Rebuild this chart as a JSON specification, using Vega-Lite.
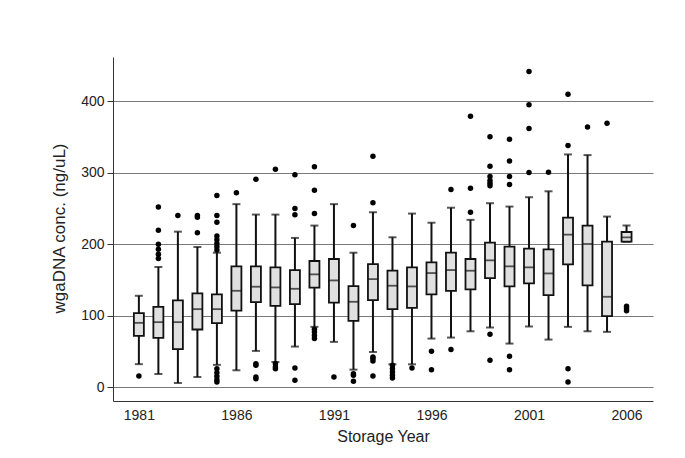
{
  "$schema": "https://vega.github.io/schema/vega-lite/v6.json",
  "width": 540,
  "height": 344,
  "autosize": "none",
  "padding": {"left": 113, "top": 57, "right": 32, "bottom": 57},
  "background": "white",
  "config": {
    "view": {"stroke": null},
    "font": "Liberation Sans",
    "axis": {"labelFont": "Liberation Sans", "titleFont": "Liberation Sans", "labelColor": "#222", "titleColor": "#222", "titleFontWeight": "normal", "domainColor": "#333", "tickColor": "#333"}
  },
  "datasets": {
    "boxes": [
      {"year": 1981, "lo": 32, "q1": 71.6, "med": 89.8, "q3": 103.4, "hi": 127.7},
      {"year": 1982, "lo": 18.2, "q1": 68.8, "med": 90.8, "q3": 112.3, "hi": 168},
      {"year": 1983, "lo": 5.6, "q1": 52.9, "med": 90.8, "q3": 121.2, "hi": 217.5},
      {"year": 1984, "lo": 14, "q1": 80.5, "med": 109, "q3": 131, "hi": 196},
      {"year": 1985, "lo": 31, "q1": 89.4, "med": 109, "q3": 129.6, "hi": 188},
      {"year": 1986, "lo": 23.4, "q1": 107, "med": 134.7, "q3": 169, "hi": 256},
      {"year": 1987, "lo": 50.5, "q1": 118.8, "med": 140.4, "q3": 169, "hi": 241.4},
      {"year": 1988, "lo": 35, "q1": 113.7, "med": 139.4, "q3": 167.5, "hi": 241.4},
      {"year": 1989, "lo": 56.6, "q1": 116, "med": 137.5, "q3": 163.7, "hi": 208.7},
      {"year": 1990, "lo": 84.2, "q1": 139, "med": 157.7, "q3": 176.4, "hi": 226},
      {"year": 1991, "lo": 63.2, "q1": 118, "med": 149.2, "q3": 179.2, "hi": 256},
      {"year": 1992, "lo": 24.3, "q1": 92.6, "med": 119.3, "q3": 141.3, "hi": 188},
      {"year": 1993, "lo": 49, "q1": 121.6, "med": 151, "q3": 172, "hi": 244.7},
      {"year": 1994, "lo": 31.8, "q1": 109, "med": 141.8, "q3": 162.8, "hi": 209.6},
      {"year": 1995, "lo": 31.8, "q1": 110.9, "med": 140.8, "q3": 167.5, "hi": 242.8},
      {"year": 1996, "lo": 67.8, "q1": 129.6, "med": 159.5, "q3": 174.5, "hi": 230},
      {"year": 1997, "lo": 69.2, "q1": 134.7, "med": 163.7, "q3": 188, "hi": 251},
      {"year": 1998, "lo": 78, "q1": 136.6, "med": 162.8, "q3": 179.2, "hi": 234},
      {"year": 1999, "lo": 83.3, "q1": 152.5, "med": 177.3, "q3": 202, "hi": 257.3},
      {"year": 2000, "lo": 60.8, "q1": 140.8, "med": 168.9, "q3": 196.5, "hi": 252.6},
      {"year": 2001, "lo": 84.7, "q1": 145, "med": 167.5, "q3": 193.7, "hi": 265.7},
      {"year": 2002, "lo": 66.4, "q1": 128.7, "med": 159, "q3": 192.7, "hi": 274},
      {"year": 2003, "lo": 84.2, "q1": 171.7, "med": 213.3, "q3": 237.2, "hi": 325.6},
      {"year": 2004, "lo": 78, "q1": 142.2, "med": 200.2, "q3": 226, "hi": 324.7},
      {"year": 2005, "lo": 77.2, "q1": 99.2, "med": 126.3, "q3": 203.5, "hi": 238.6},
      {"year": 2006, "lo": 203.5, "q1": 203.5, "med": 209.6, "q3": 217, "hi": 226}
    ],
    "outliers": [
      {"year": 1981, "v": 15.4},
      {"year": 1982, "v": 252}, {"year": 1982, "v": 219.4}, {"year": 1982, "v": 200}, {"year": 1982, "v": 193}, {"year": 1982, "v": 186}, {"year": 1982, "v": 180},
      {"year": 1983, "v": 240},
      {"year": 1984, "v": 240}, {"year": 1984, "v": 237.7}, {"year": 1984, "v": 216},
      {"year": 1985, "v": 268}, {"year": 1985, "v": 240}, {"year": 1985, "v": 230.6}, {"year": 1985, "v": 211.5}, {"year": 1985, "v": 206}, {"year": 1985, "v": 201}, {"year": 1985, "v": 196.5}, {"year": 1985, "v": 191.8},
      {"year": 1985, "v": 25.7}, {"year": 1985, "v": 20}, {"year": 1985, "v": 15}, {"year": 1985, "v": 10}, {"year": 1985, "v": 7},
      {"year": 1986, "v": 272},
      {"year": 1987, "v": 291}, {"year": 1987, "v": 32.7}, {"year": 1987, "v": 30.4}, {"year": 1987, "v": 14}, {"year": 1987, "v": 11.7},
      {"year": 1988, "v": 305}, {"year": 1988, "v": 32.7}, {"year": 1988, "v": 28}, {"year": 1988, "v": 25.7},
      {"year": 1989, "v": 297}, {"year": 1989, "v": 250}, {"year": 1989, "v": 241}, {"year": 1989, "v": 26.7}, {"year": 1989, "v": 9.4},
      {"year": 1990, "v": 308.3}, {"year": 1990, "v": 275.6}, {"year": 1990, "v": 242.8}, {"year": 1990, "v": 81}, {"year": 1990, "v": 77}, {"year": 1990, "v": 72}, {"year": 1990, "v": 68},
      {"year": 1991, "v": 14},
      {"year": 1992, "v": 226}, {"year": 1992, "v": 18.7}, {"year": 1992, "v": 16.4}, {"year": 1992, "v": 8},
      {"year": 1993, "v": 323}, {"year": 1993, "v": 258}, {"year": 1993, "v": 42}, {"year": 1993, "v": 39.8}, {"year": 1993, "v": 36.5}, {"year": 1993, "v": 15.4},
      {"year": 1994, "v": 30.4}, {"year": 1994, "v": 25.7}, {"year": 1994, "v": 21}, {"year": 1994, "v": 16.4}, {"year": 1994, "v": 12.6},
      {"year": 1995, "v": 26.7},
      {"year": 1996, "v": 50}, {"year": 1996, "v": 24.3},
      {"year": 1997, "v": 276.5}, {"year": 1997, "v": 52.4},
      {"year": 1998, "v": 379}, {"year": 1998, "v": 278.4}, {"year": 1998, "v": 244.7},
      {"year": 1999, "v": 350.4}, {"year": 1999, "v": 309.2}, {"year": 1999, "v": 294.7}, {"year": 1999, "v": 289}, {"year": 1999, "v": 285.4}, {"year": 1999, "v": 281.6}, {"year": 1999, "v": 74}, {"year": 1999, "v": 37.4},
      {"year": 2000, "v": 347}, {"year": 2000, "v": 316.3}, {"year": 2000, "v": 294.7}, {"year": 2000, "v": 283.5}, {"year": 2000, "v": 43}, {"year": 2000, "v": 24.3},
      {"year": 2001, "v": 441.6}, {"year": 2001, "v": 395.3}, {"year": 2001, "v": 362}, {"year": 2001, "v": 300.4},
      {"year": 2002, "v": 300.8},
      {"year": 2003, "v": 409.8}, {"year": 2003, "v": 338.2}, {"year": 2003, "v": 25.7}, {"year": 2003, "v": 7},
      {"year": 2004, "v": 364},
      {"year": 2005, "v": 369.1},
      {"year": 2006, "v": 113}, {"year": 2006, "v": 110}, {"year": 2006, "v": 106.7}
    ]
  },
  "layer": [
    {
      "data": {"name": "boxes"},
      "mark": {"type": "rule", "color": "#111", "strokeWidth": 2},
      "encoding": {
        "x": {"field": "year", "type": "quantitative", "scale": {"domain": [1979.93, 2007.1], "nice": false, "zero": false},
          "axis": {"values": [1981, 1986, 1991, 1996, 2001, 2006], "format": "d", "ticks": false, "tickSize": 0, "grid": false, "labelPadding": 7, "labelFontSize": 14, "title": "Storage Year", "titleFontSize": 16, "titlePadding": 6, "labelFlush": false}},
        "y": {"field": "lo", "type": "quantitative", "scale": {"domain": [-19.6, 462], "nice": false, "zero": false},
          "axis": {"values": [0, 100, 200, 300, 400], "grid": true, "gridColor": "#7a7a7a", "gridWidth": 1, "tickSize": 6, "labelPadding": 3, "labelFontSize": 14, "title": "wgaDNA conc. (ng/uL)", "titleFontSize": 17, "titleAngle": -90, "titleX": -54, "titleY": 171, "titleAlign": "center", "titleBaseline": "middle"}},
        "y2": {"field": "hi"}
      }
    },
    {
      "data": {"name": "boxes"},
      "mark": {"type": "tick", "orient": "horizontal", "color": "#111", "size": 8, "thickness": 2},
      "encoding": {
        "x": {"field": "year", "type": "quantitative"},
        "y": {"field": "lo", "type": "quantitative"}
      }
    },
    {
      "data": {"name": "boxes"},
      "mark": {"type": "tick", "orient": "horizontal", "color": "#111", "size": 8, "thickness": 2},
      "encoding": {
        "x": {"field": "year", "type": "quantitative"},
        "y": {"field": "hi", "type": "quantitative"}
      }
    },
    {
      "data": {"name": "boxes"},
      "mark": {"type": "bar", "width": 10, "fill": "#e0e0e0", "stroke": "#111", "strokeWidth": 1.8},
      "encoding": {
        "x": {"field": "year", "type": "quantitative"},
        "y": {"field": "q1", "type": "quantitative"},
        "y2": {"field": "q3"}
      }
    },
    {
      "data": {"name": "boxes"},
      "mark": {"type": "tick", "orient": "horizontal", "color": "#111", "size": 10, "thickness": 1.8},
      "encoding": {
        "x": {"field": "year", "type": "quantitative"},
        "y": {"field": "med", "type": "quantitative"}
      }
    },
    {
      "data": {"name": "outliers"},
      "mark": {"type": "circle", "color": "#000", "opacity": 1, "size": 30},
      "encoding": {
        "x": {"field": "year", "type": "quantitative"},
        "y": {"field": "v", "type": "quantitative"}
      }
    }
  ]
}
